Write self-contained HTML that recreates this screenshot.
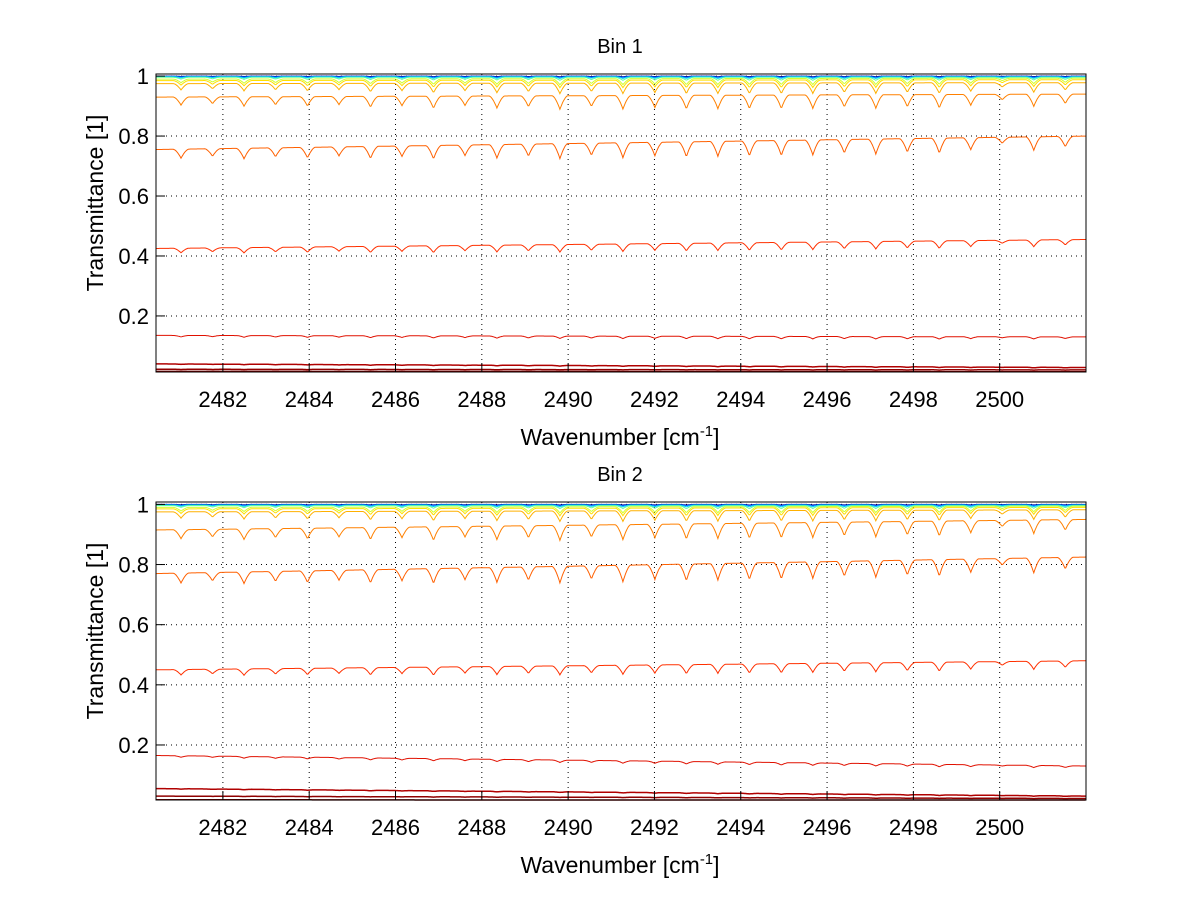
<!DOCTYPE html>
<html><head><meta charset="utf-8"><style>
body{margin:0;background:#fff;}
svg text{font-family:"Liberation Sans",sans-serif;fill:#000;}
</style></head><body>
<svg id="fig" width="1200" height="901" viewBox="0 0 1200 901" xmlns="http://www.w3.org/2000/svg">
<rect width="1200" height="901" fill="#fff"/>
</svg>
<script>
// ---- data ----
const xTicks = [2482,2484,2486,2488,2490,2492,2494,2496,2498,2500];
const yTicks = [0.2,0.4,0.6,0.8,1];
const yTickLabels = ["0.2","0.4","0.6","0.8","1"];
const lineCenters = [2481.03,2481.76,2482.49,2483.22,2483.96,2484.69,2485.42,2486.15,2486.88,2487.61,2488.35,2489.08,2489.81,2490.54,2491.27,2492.01,2492.74,2493.47,2494.20,2494.94,2495.67,2496.40,2497.13,2497.86,2498.60,2499.33,2500.06,2500.79,2501.52];
const lineStrengths = [0.6,0.5,0.7,0.6,0.7,0.6,0.8,0.7,0.9,0.7,0.9,0.8,1.0,0.8,1.0,0.9,1.0,1.0,1.0,1.0,1.0,0.9,1.0,0.9,1.0,0.8,0.4,0.9,0.7];
const seriesColors = ["#00008f","#0060ff","#00d0ff","#60ff9f","#d0ff30","#ffe000","#ffb000","#ff8000","#ff6000","#ff3000","#e01000","#b00000","#900000","#800000"];
const bin1Start = [1.000,0.999,0.998,0.996,0.99,0.985,0.975,0.93,0.755,0.425,0.135,0.04,0.022,0.015];
const bin1End   = [1.000,0.999,0.998,0.996,0.993,0.988,0.978,0.94,0.80,0.455,0.13,0.028,0.02,0.014];
const bin1Dip   = [0.002,0.003,0.006,0.01,0.02,0.025,0.035,0.045,0.05,0.025,0.008,0.002,0.001,0.0];
const bin2Start = [1.000,0.999,0.998,0.996,0.99,0.985,0.975,0.915,0.77,0.45,0.165,0.055,0.03,0.018];
const bin2End   = [1.000,0.999,0.998,0.996,0.994,0.99,0.982,0.95,0.825,0.48,0.13,0.03,0.022,0.015];
const bin2Dip   = [0.002,0.003,0.006,0.01,0.02,0.025,0.035,0.05,0.055,0.03,0.008,0.002,0.001,0.0];

const NS="http://www.w3.org/2000/svg";
const svg=document.getElementById('fig');
function mk(tag,attrs,parent){const e=document.createElementNS(NS,tag);for(const k in attrs)e.setAttribute(k,attrs[k]);(parent||svg).appendChild(e);return e;}

const X0=156,X1=1086,XMIN=2480.45,XMAX=2502;
function sx(v){return X0+(v-XMIN)/(XMAX-XMIN)*(X1-X0);}

function panel(top,bottom,ymin,ymax,title,starts,ends,dips,idx){
  const sy=v=>bottom-(v-ymin)/(ymax-ymin)*(bottom-top);
  const g=mk('g',{});
  
  
  xTicks.forEach(t=>{const l=mk('line',{x1:sx(t),x2:sx(t),y1:top,y2:bottom,stroke:'#000','stroke-width':1,'stroke-dasharray':'1,4'},g);
    });
  yTicks.forEach(t=>{const l=mk('line',{x1:X0,x2:X1,y1:sy(t),y2:sy(t),stroke:'#000','stroke-width':1,'stroke-dasharray':'1,4'},g);
    });
  for(let s=0;s<starts.length;s++){
    let pts=[];
    for(let x=XMIN;x<=XMAX+0.001;x+=0.02){
      const f=(x-XMIN)/(XMAX-XMIN);
      let v=starts[s]+(ends[s]-starts[s])*f;
      let d=0;
      for(let k=0;k<lineCenters.length;k++){const u=Math.abs(x-lineCenters[k])/0.18;if(u<1)d+=lineStrengths[k]*Math.pow(1-u,1.6);}
      v-=dips[s]*Math.min(d,1.3);
      v=Math.max(ymin,Math.min(ymax,v));
      pts.push(sx(x).toFixed(1)+','+sy(v).toFixed(1));
    }
    const p=mk('polyline',{points:pts.join(' '),fill:'none',stroke:seriesColors[s],'stroke-width':s>=11?1.5:1},g);
    
    
  }
  const b=mk('rect',{x:X0,y:top,width:X1-X0,height:bottom-top,fill:'none',stroke:'#000','stroke-width':1},g);
  
  xTicks.forEach(t=>{
    mk('line',{x1:sx(t),x2:sx(t),y1:bottom,y2:bottom-9,stroke:'#000'},g);
    const tx=mk('text',{x:sx(t),y:bottom+35,'text-anchor':'middle','font-size':22},g);tx.textContent=t;
    
  });
  yTicks.forEach((t,i)=>{
    mk('line',{x1:X0,x2:X0+9,y1:sy(t),y2:sy(t),stroke:'#000'},g);
    const tx=mk('text',{x:X0-7,y:sy(t)+8,'text-anchor':'end','font-size':22},g);tx.textContent=yTickLabels[i];
    
  });
  const ti=mk('text',{x:620,y:top-21,'text-anchor':'middle','font-size':20},g);ti.textContent=title;
  
  const xl=mk('text',{x:620,y:bottom+73,'text-anchor':'middle','font-size':23},g);
  xl.innerHTML='Wavenumber [cm<tspan dy="-9" font-size="15">-1</tspan><tspan dy="9">]</tspan>';
  
  const cy=(top+bottom)/2-20;
  const yl=mk('text',{x:103,y:cy,'text-anchor':'middle','font-size':23,transform:'rotate(-90 103 '+cy+')'},g);yl.textContent='Transmittance [1]';
  
}
panel(74,372,0.013,1.007,'Bin 1',bin1Start,bin1End,bin1Dip,1);
panel(502,800,0.017,1.008,'Bin 2',bin2Start,bin2End,bin2Dip,2);
</script>
</body></html>
